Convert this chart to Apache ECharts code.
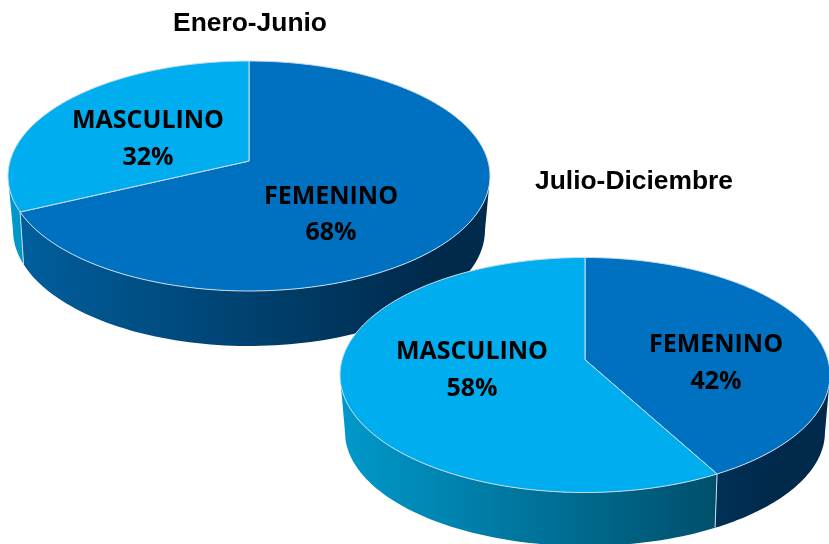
<!DOCTYPE html>
<html>
<head>
<meta charset="utf-8">
<title>Enero-Junio / Julio-Diciembre</title>
<style>
  html, body { margin: 0; padding: 0; background: #fff; }
  #chart { width: 829px; height: 544px; }
</style>
<script src="https://cdn.jsdelivr.net/npm/echarts@6/dist/echarts.min.js"></script>
</head>
<body>
<div id="chart"></div>
<script>
var categories = ['FEMENINO', 'MASCULINO']
var eneroJunio = [68, 32]
var julioDiciembre = [42, 58]

var topColors = ['#0070C0', '#00AEEF']
var wallLeft = ['#00609F', '#0099CB']
var wallRight = ['#002A4C', '#00455F']
var edgeColor = '#C9DDEC'

// geometria de cada tarta: elipse superior, elipse inferior, posicion de etiquetas
var pieEnero = {
  cx: 249, cy: 176, rx: 241, ry: 115,
  cyLow: 230, rxLow: 236, ryLow: 116,
  labels: [[331, 197, 233], [148, 121, 158]]
}
var pieJulio = {
  cx: 585, cy: 375, rx: 245, ry: 117.5,
  cyLow: 432, rxLow: 240, ryLow: 114,
  labels: [[716, 345, 382], [472, 352, 389]]
}
var tilt = 0.13 // desplazamiento del centro por la perspectiva

// angulo (desde arriba, horario) -> punto normalizado sobre la elipse
function project(angle) {
  var a = Math.sin(angle)
  var b = -Math.cos(angle)
  var d = 1 - tilt * b
  return [a * Math.sqrt(1 - tilt * tilt) / d, (b - tilt) / d]
}

function topPoint(pie, p) {
  return [pie.cx + p[0] * pie.rx, pie.cy + p[1] * pie.ry]
}

function lowPoint(pie, p) {
  var a = p[0] * pie.rx * 0.985 / pie.rxLow
  a = Math.max(-1, Math.min(1, a))
  return [pie.cx + a * pie.rxLow, pie.cyLow + Math.sqrt(1 - a * a) * pie.ryLow]
}

function makeSeries(name, values, pie, z) {
  var total = values.reduce(function(s, v) { return s + v }, 0)
  return {
    name: name,
    type: 'custom',
    coordinateSystem: 'none',
    z: z,
    silent: true,
    data: values.map(function(v, i) { return { name: categories[i], value: [v] } }),
    renderItem: function(params, api) {
      var i = params.dataIndex
      var before = 0
      for (var k = 0; k < i; k++) before += values[k]
      var start = before / total * Math.PI * 2
      var end = (before + api.value(0)) / total * Math.PI * 2

      var arc = []
      var steps = 160
      for (var s = 0; s <= steps; s++) {
        arc.push(project(start + (end - start) * s / steps))
      }

      var children = []

      // pared lateral, solo la parte visible
      var visible = arc.filter(function(p) { return p[1] >= 0 })
      if (visible.length > 1) {
        var upper = visible.map(function(p) { return topPoint(pie, p) })
        var lower = visible.map(function(p) { return lowPoint(pie, p) }).reverse()
        children.push({
          type: 'polygon',
          shape: { points: upper.concat(lower) },
          style: {
            fill: new echarts.graphic.LinearGradient(pie.cx - pie.rx, 0, pie.cx + pie.rx * 0.75, 0, [
              { offset: 0, color: wallLeft[i] },
              { offset: 1, color: wallRight[i] }
            ], true)
          }
        })
        // separacion entre porciones en la pared
        var last = arc[arc.length - 1]
        if (last[1] >= 0) {
          var a1 = topPoint(pie, last)
          var a2 = lowPoint(pie, last)
          children.push({
            type: 'line',
            z2: 2,
            shape: { x1: a1[0], y1: a1[1], x2: a2[0], y2: a2[1] },
            style: { stroke: edgeColor, lineWidth: 1 }
          })
        }
      }

      // cara superior
      var face = [[pie.cx, pie.cy - tilt * pie.ry]].concat(arc.map(function(p) { return topPoint(pie, p) }))
      children.push({
        type: 'polygon',
        z2: 3,
        shape: { points: face },
        style: { fill: topColors[i], stroke: edgeColor, lineWidth: 1 }
      })

      // etiquetas
      var pos = pie.labels[i]
      var font = 'bold 25px "Open Sans", sans-serif'
      children.push({
        type: 'text',
        z2: 5,
        x: pos[0],
        y: pos[1],
        style: { text: categories[i], fill: '#000', font: font, align: 'center', verticalAlign: 'middle' }
      })
      children.push({
        type: 'text',
        z2: 5,
        x: pos[0],
        y: pos[2],
        style: { text: Math.round(api.value(0) / total * 100) + '%', fill: '#000', font: font, align: 'center', verticalAlign: 'middle' }
      })

      return { type: 'group', children: children }
    }
  }
}

var chart = echarts.init(document.getElementById('chart'), null, { renderer: 'canvas' })
chart.setOption({
  animation: false,
  backgroundColor: '#fff',
  title: [
    {
      text: 'Enero-Junio',
      left: 245,
      top: 6,
      textAlign: 'center',
      textStyle: { fontFamily: 'Liberation Sans', fontWeight: 'bold', fontSize: 26.4, color: '#000' }
    },
    {
      text: 'Julio-Diciembre',
      left: 629,
      top: 164,
      textAlign: 'center',
      textStyle: { fontFamily: 'Liberation Sans', fontWeight: 'bold', fontSize: 26.4, color: '#000' }
    }
  ],
  series: [
    makeSeries('Enero-Junio', eneroJunio, pieEnero, 2),
    makeSeries('Julio-Diciembre', julioDiciembre, pieJulio, 3)
  ]
})
</script>
</body>
</html>
